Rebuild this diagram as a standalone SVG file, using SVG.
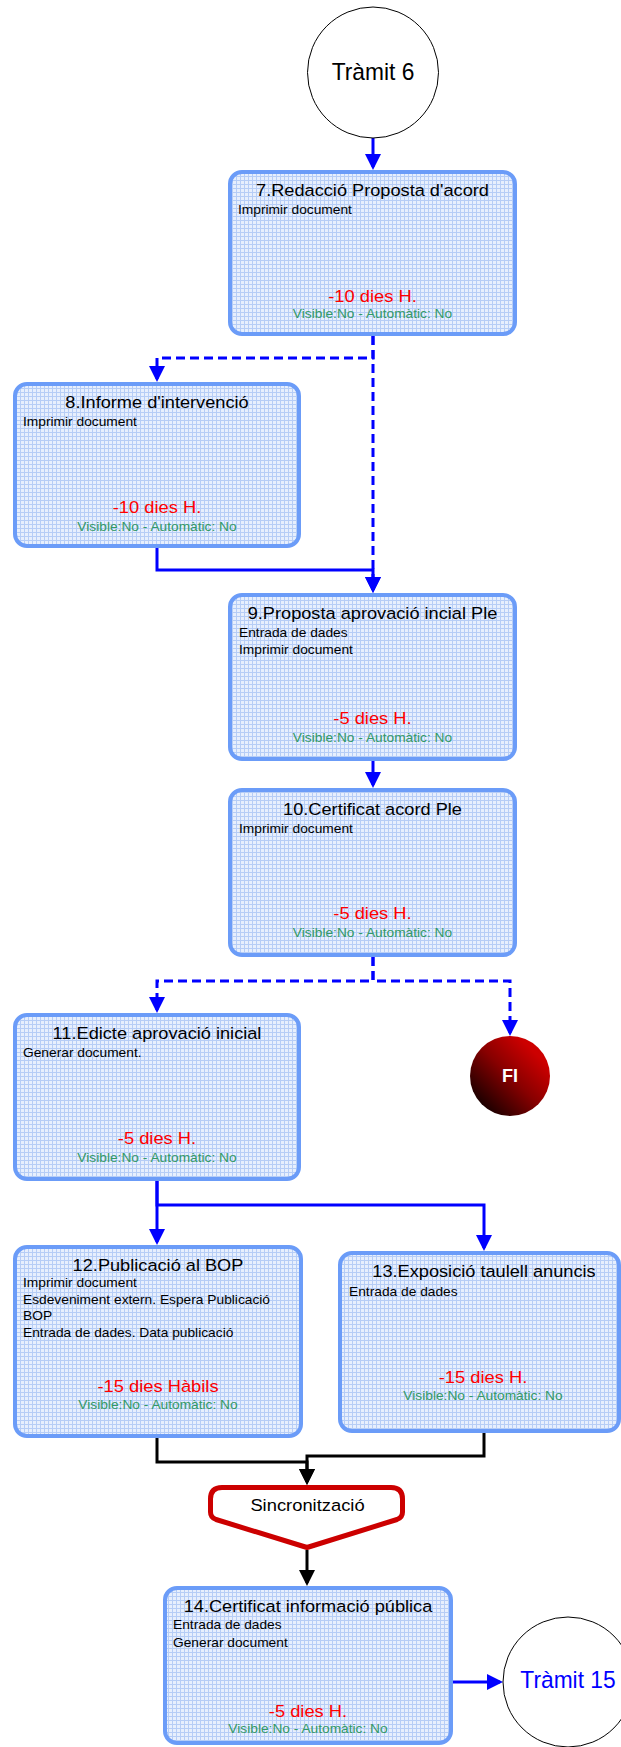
<svg xmlns="http://www.w3.org/2000/svg" width="621" height="1747" viewBox="0 0 621 1747">
<style>
text{font-family:"Liberation Sans",Arial,sans-serif}
.box{fill:url(#grid);stroke:#6b9cf8;stroke-width:4}
.t{font-size:17px;fill:#000;text-anchor:middle}
.d{font-size:13px;fill:#000}
.r{font-size:16.5px;fill:#ff0000;text-anchor:middle}
.g{font-size:12.5px;fill:#339966;text-anchor:middle}
.tr{font-size:24.5px;text-anchor:middle}
.cb{fill:none;stroke:#0000ff;stroke-width:3}
.dash{stroke-dasharray:9 5}
.ck{fill:none;stroke:#000;stroke-width:3}
</style>
<defs>
<pattern id="grid" patternUnits="userSpaceOnUse" width="4" height="4">
<rect width="4" height="4" fill="#e7effd"/>
<path d="M0.5 0V4M0 0.5H4" stroke="#b6cdf6" stroke-width="1"/>
</pattern>
<marker id="ab" markerUnits="userSpaceOnUse" viewBox="0 0 16 16" markerWidth="16" markerHeight="16" refX="13" refY="8" orient="auto"><path d="M0 0L16 8L0 16Z" fill="#0000ff"/></marker>
<marker id="ak" markerUnits="userSpaceOnUse" viewBox="0 0 16 16" markerWidth="16" markerHeight="16" refX="13" refY="8" orient="auto"><path d="M0 0L16 8L0 16Z" fill="#000"/></marker>
<linearGradient id="fig" x1="0" y1="1" x2="1" y2="0">
<stop offset="0.15" stop-color="#1e0000"/>
<stop offset="0.5" stop-color="#880000"/>
<stop offset="0.8" stop-color="#cc0000"/>
<stop offset="1" stop-color="#d00000"/>
</linearGradient>
</defs>

<g id="connectors">
<path class="cb" d="M373 138V167" marker-end="url(#ab)"/>
<path class="cb dash" d="M373 336V358H157V379" marker-end="url(#ab)"/>
<path class="cb dash" d="M373 336V590" marker-end="url(#ab)"/>
<path class="cb" d="M157 548V570H373V590" marker-end="url(#ab)"/>
<path class="cb" d="M373 761V785" marker-end="url(#ab)"/>
<path class="cb dash" d="M373 957V981H157V1010" marker-end="url(#ab)"/>
<path class="cb dash" d="M373 957V981H510V1033" marker-end="url(#ab)"/>
<path class="cb" d="M157 1181V1242" marker-end="url(#ab)"/>
<path class="cb" d="M157 1181V1205H484V1248" marker-end="url(#ab)"/>
<path class="ck" d="M157 1438V1462H307V1482" marker-end="url(#ak)"/>
<path class="ck" d="M484 1433V1456H307V1482" marker-end="url(#ak)"/>
<path class="ck" d="M307 1550V1583" marker-end="url(#ak)"/>
<path class="cb" d="M453 1682H500" marker-end="url(#ab)"/>
</g>

<g id="n-tramit6">
<circle cx="373" cy="72.5" r="65.5" fill="#fff" stroke="#000" stroke-width="1"/>
<text class="tr" transform="translate(373,80) scale(0.93,1)" fill="#000">Tràmit 6</text>
</g>

<g id="n7">
<rect class="box" x="230" y="172" width="285" height="162" rx="12"/>
<text class="t" transform="translate(372.5,196) scale(1.07,1)">7.Redacció Proposta d'acord</text>
<text class="d" transform="translate(238,214) scale(1.06,1)">Imprimir document</text>
<text class="r" transform="translate(372.5,302) scale(1.11,1)">-10 dies H.</text>
<text class="g" transform="translate(372.5,318) scale(1.1,1)">Visible:No - Automàtic: No</text>
</g>

<g id="n8">
<rect class="box" x="15" y="384" width="284" height="162" rx="12"/>
<text class="t" transform="translate(157,408) scale(1.07,1)">8.Informe d'intervenció</text>
<text class="d" transform="translate(23,426) scale(1.06,1)">Imprimir document</text>
<text class="r" transform="translate(157,513) scale(1.11,1)">-10 dies H.</text>
<text class="g" transform="translate(157,531) scale(1.1,1)">Visible:No - Automàtic: No</text>
</g>

<g id="n9">
<rect class="box" x="230" y="595" width="285" height="164" rx="12"/>
<text class="t" transform="translate(372.5,619) scale(1.07,1)">9.Proposta aprovació incial Ple</text>
<text class="d" transform="translate(239,637) scale(1.06,1)">Entrada de dades</text>
<text class="d" transform="translate(239,654) scale(1.06,1)">Imprimir document</text>
<text class="r" transform="translate(372.5,724) scale(1.11,1)">-5 dies H.</text>
<text class="g" transform="translate(372.5,742) scale(1.1,1)">Visible:No - Automàtic: No</text>
</g>

<g id="n10">
<rect class="box" x="230" y="790" width="285" height="165" rx="12"/>
<text class="t" transform="translate(372.5,815) scale(1.07,1)">10.Certificat acord Ple</text>
<text class="d" transform="translate(239,833) scale(1.06,1)">Imprimir document</text>
<text class="r" transform="translate(372.5,919) scale(1.11,1)">-5 dies H.</text>
<text class="g" transform="translate(372.5,937) scale(1.1,1)">Visible:No - Automàtic: No</text>
</g>

<g id="n-fi">
<circle cx="510" cy="1076" r="40" fill="url(#fig)"/>
<text transform="translate(510,1082)" font-size="18" font-weight="bold" fill="#fff" text-anchor="middle">FI</text>
</g>

<g id="n11">
<rect class="box" x="15" y="1015" width="284" height="164" rx="12"/>
<text class="t" transform="translate(157,1039) scale(1.07,1)">11.Edicte aprovació inicial</text>
<text class="d" transform="translate(23,1057) scale(1.06,1)">Generar document.</text>
<text class="r" transform="translate(157,1144) scale(1.11,1)">-5 dies H.</text>
<text class="g" transform="translate(157,1162) scale(1.1,1)">Visible:No - Automàtic: No</text>
</g>

<g id="n12">
<rect class="box" x="15" y="1247" width="286" height="189" rx="12"/>
<text class="t" transform="translate(158,1271) scale(1.07,1)">12.Publicació al BOP</text>
<text class="d" transform="translate(23,1287) scale(1.06,1)">Imprimir document</text>
<text class="d" transform="translate(23,1304) scale(1.06,1)">Esdeveniment extern. Espera Publicació</text>
<text class="d" transform="translate(23,1320) scale(1.06,1)">BOP</text>
<text class="d" transform="translate(23,1337) scale(1.06,1)">Entrada de dades. Data publicació</text>
<text class="r" transform="translate(158,1392) scale(1.11,1)">-15 dies Hàbils</text>
<text class="g" transform="translate(158,1409) scale(1.1,1)">Visible:No - Automàtic: No</text>
</g>

<g id="n13">
<rect class="box" x="340" y="1253" width="279" height="178" rx="12"/>
<text class="t" transform="translate(484,1277) scale(1.07,1)">13.Exposició taulell anuncis</text>
<text class="d" transform="translate(349,1296) scale(1.06,1)">Entrada de dades</text>
<text class="r" transform="translate(483,1383) scale(1.11,1)">-15 dies H.</text>
<text class="g" transform="translate(483,1400) scale(1.1,1)">Visible:No - Automàtic: No</text>
</g>

<g id="n-sync">
<path d="M222 1487.5H391Q402.5 1487.5 402.5 1499V1512Q402.5 1517.5 397 1519.5L307 1547.5L216 1519.5Q210.5 1517.5 210.5 1512V1499Q210.5 1487.5 222 1487.5Z" fill="#fff" stroke="#cc0000" stroke-width="5" stroke-linejoin="round"/>
<text transform="translate(307.5,1511) scale(1.08,1)" font-size="17" text-anchor="middle" fill="#000">Sincronització</text>
</g>

<g id="n14">
<rect class="box" x="165" y="1588" width="286" height="155" rx="12"/>
<text class="t" transform="translate(308,1612) scale(1.07,1)">14.Certificat informació pública</text>
<text class="d" transform="translate(173,1629) scale(1.06,1)">Entrada de dades</text>
<text class="d" transform="translate(173,1647) scale(1.06,1)">Generar document</text>
<text class="r" transform="translate(308,1717) scale(1.11,1)">-5 dies H.</text>
<text class="g" transform="translate(308,1733) scale(1.1,1)">Visible:No - Automàtic: No</text>
</g>

<g id="n-tramit15">
<circle cx="568" cy="1682" r="65" fill="#fff" stroke="#000" stroke-width="1"/>
<text class="tr" transform="translate(568,1688) scale(0.93,1)" fill="#0000ff">Tràmit 15</text>
</g>
</svg>
